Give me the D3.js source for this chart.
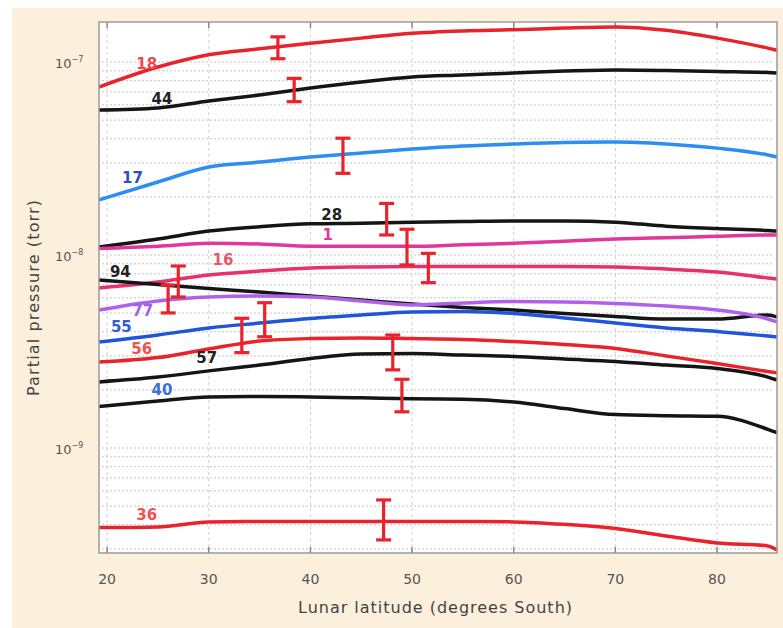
<!DOCTYPE html>
<html><head><meta charset="utf-8">
<script src="https://cdn.jsdelivr.net/npm/d3@7"></script>
<style>
html,body{margin:0;padding:0;background:#fff;}
svg{display:block;}
text{font-family:"DejaVu Sans",Roboto,sans-serif;}
</style></head>
<body>
<svg id="chart" width="783" height="628"></svg>
<script>
// ---- data ----
const latitudes = [19.2, 25, 30, 35, 40, 45, 50, 55, 60, 65, 70, 75, 80, 85, 85.9];
const s18 = [7.42e-8, 9.42e-8, 1.09e-7, 1.17e-7, 1.25e-7, 1.33e-7, 1.41e-7, 1.45e-7, 1.47e-7, 1.50e-7, 1.52e-7, 1.46e-7, 1.33e-7, 1.18e-7, 1.15e-7];
const s44 = [5.64e-8, 5.78e-8, 6.28e-8, 6.75e-8, 7.33e-8, 7.88e-8, 8.36e-8, 8.56e-8, 8.77e-8, 8.98e-8, 9.09e-8, 9.04e-8, 8.93e-8, 8.82e-8, 8.77e-8];
const s17 = [1.93e-8, 2.39e-8, 2.86e-8, 3.03e-8, 3.22e-8, 3.38e-8, 3.54e-8, 3.67e-8, 3.76e-8, 3.83e-8, 3.85e-8, 3.76e-8, 3.58e-8, 3.30e-8, 3.22e-8];
const s28 = [1.10e-8, 1.21e-8, 1.33e-8, 1.40e-8, 1.45e-8, 1.46e-8, 1.48e-8, 1.49e-8, 1.50e-8, 1.50e-8, 1.48e-8, 1.41e-8, 1.37e-8, 1.34e-8, 1.33e-8];
const s1  = [1.08e-8, 1.11e-8, 1.15e-8, 1.14e-8, 1.11e-8, 1.11e-8, 1.11e-8, 1.13e-8, 1.15e-8, 1.18e-8, 1.21e-8, 1.23e-8, 1.25e-8, 1.27e-8, 1.27e-8];
const s16 = [6.75e-9, 7.25e-9, 7.88e-9, 8.26e-9, 8.56e-9, 8.67e-9, 8.72e-9, 8.72e-9, 8.72e-9, 8.72e-9, 8.67e-9, 8.46e-9, 8.16e-9, 7.60e-9, 7.51e-9];
const s94 = [7.42e-9, 7.03e-9, 6.71e-9, 6.43e-9, 6.13e-9, 5.85e-9, 5.57e-9, 5.35e-9, 5.19e-9, 4.98e-9, 4.80e-9, 4.66e-9, 4.66e-9, 4.89e-9, 4.77e-9];
const s77 = [5.19e-9, 5.78e-9, 6.06e-9, 6.13e-9, 6.06e-9, 5.78e-9, 5.51e-9, 5.64e-9, 5.74e-9, 5.71e-9, 5.61e-9, 5.44e-9, 5.19e-9, 4.66e-9, 4.50e-9];
const s55 = [3.54e-9, 3.85e-9, 4.19e-9, 4.44e-9, 4.69e-9, 4.89e-9, 5.07e-9, 5.10e-9, 4.98e-9, 4.72e-9, 4.44e-9, 4.19e-9, 4.02e-9, 3.80e-9, 3.76e-9];
const s56 = [2.79e-9, 2.94e-9, 3.26e-9, 3.58e-9, 3.69e-9, 3.72e-9, 3.69e-9, 3.65e-9, 3.56e-9, 3.44e-9, 3.28e-9, 3.00e-9, 2.74e-9, 2.49e-9, 2.45e-9];
const s57 = [2.20e-9, 2.33e-9, 2.51e-9, 2.69e-9, 2.91e-9, 3.07e-9, 3.09e-9, 3.03e-9, 2.98e-9, 2.89e-9, 2.81e-9, 2.69e-9, 2.58e-9, 2.33e-9, 2.25e-9];
const s40 = [1.64e-9, 1.75e-9, 1.84e-9, 1.85e-9, 1.84e-9, 1.82e-9, 1.80e-9, 1.79e-9, 1.73e-9, 1.60e-9, 1.49e-9, 1.47e-9, 1.46e-9, 1.25e-9, 1.20e-9];
const s36 = [3.87e-10, 3.90e-10, 4.14e-10, 4.16e-10, 4.16e-10, 4.16e-10, 4.16e-10, 4.16e-10, 4.14e-10, 4.02e-10, 3.83e-10, 3.50e-10, 3.22e-10, 3.11e-10, 2.96e-10];

const seriesNames  = ["18","44","17","28","1","16","94","77","55","56","57","40","36"];
const seriesValues = [s18, s44, s17, s28, s1, s16, s94, s77, s55, s56, s57, s40, s36];

// error bars: latitude, low, high
const errLat  = [36.8, 38.4, 43.2, 47.5, 49.5, 51.6, 27.0, 26.0, 33.25, 35.5, 48.1, 49.0, 47.2];
const errLow  = [1.04e-7, 6.23e-8, 2.65e-8, 1.27e-8, 8.88e-9, 7.19e-9, 6.06e-9, 5.01e-9, 3.12e-9, 3.77e-9, 2.54e-9, 1.54e-9, 3.34e-10];
const errHigh = [1.35e-7, 8.23e-8, 4.03e-8, 1.85e-8, 1.36e-8, 1.02e-8, 8.77e-9, 6.99e-9, 4.70e-9, 5.66e-9, 3.85e-9, 2.27e-9, 5.38e-10];

// series labels: text, latitude, value
const labelText = ["18","44","17","28","1","16","94","77","55","56","57","40","36"];
const labelLat  = [23.9, 25.4, 22.5, 42.1, 41.7, 31.4, 21.3, 23.5, 21.4, 23.4, 29.8, 25.4, 23.9];
const labelVal  = [9.71e-8, 6.43e-8, 2.52e-8, 1.61e-8, 1.27e-8, 9.42e-9, 8.16e-9, 5.13e-9, 4.24e-9, 3.26e-9, 2.93e-9, 2.00e-9, 4.50e-10];

const xTicks = [20, 30, 40, 50, 60, 70, 80];
const yTickExps = [-7, -8, -9];
const xTitle = "Lunar latitude (degrees South)";
const yTitle = "Partial pressure (torr)";

// ---- styles ----
const lineColor = {"18":"#e8232b","44":"#151515","17":"#2b8ef0","28":"#151515","1":"#e0379a","16":"#e8306f","94":"#151515","77":"#b061ea","55":"#1f55d8","56":"#e8232b","57":"#151515","40":"#151515","36":"#e8232b"};
const labelColor = {"18":"#f0484a","44":"#222","17":"#2c4fc6","28":"#222","1":"#e0379a","16":"#f05468","94":"#222","77":"#a35ee4","55":"#3060d0","56":"#f05252","57":"#222","40":"#3b6fd8","36":"#f05050"};

const svg = d3.select("#chart");
const W = 783, H = 628;
const L = 99, R = 777, T = 22, B = 553;

svg.append("rect").attr("x",0).attr("y",0).attr("width",W).attr("height",H).attr("fill","#ffffff");
svg.append("rect").attr("x",12).attr("y",8).attr("width",W-12).attr("height",H-8).attr("fill","#fcefdc");
svg.append("rect").attr("x",L).attr("y",T).attr("width",R-L).attr("height",B-T).attr("fill","#ffffff");

const x = d3.scaleLinear().domain([19.2, 85.9]).range([L, R]);
const y = d3.scaleLog().domain([2.857e-10, 1.612e-7]).range([B, T]);

// grid
const g = svg.append("g");
const minor = [];
for (let e = -10; e <= -7; e++) for (let m = 1; m <= 9; m++) { const v = m * Math.pow(10, e); if (v >= y.domain()[0] && v <= y.domain()[1]) minor.push(v); }
g.selectAll("line.hg").data(minor).join("line")
  .attr("x1", L+3).attr("x2", R-3).attr("y1", d => y(d)).attr("y2", d => y(d))
  .attr("stroke", "#c4c4c4").attr("stroke-width", 1).attr("stroke-dasharray", "2,2");
g.selectAll("line.vg").data(xTicks).join("line")
  .attr("x1", d => x(d)).attr("x2", d => x(d)).attr("y1", T).attr("y2", B)
  .attr("stroke", "#cfcfcf").attr("stroke-width", 1).attr("stroke-dasharray", "3,3");
g.selectAll("line.tt").data(xTicks).join("line")
  .attr("x1", d => x(d)).attr("x2", d => x(d)).attr("y1", T).attr("y2", T+6)
  .attr("stroke", "#888").attr("stroke-width", 1.5);
g.selectAll("line.tb").data(xTicks).join("line")
  .attr("x1", d => x(d)).attr("x2", d => x(d)).attr("y1", B).attr("y2", B-6)
  .attr("stroke", "#888").attr("stroke-width", 1.5);

// lines
const line = d3.line().x((d,i) => x(latitudes[i])).y(d => y(d)).curve(d3.curveMonotoneX);
svg.append("g").selectAll("path").data(seriesValues).join("path")
  .attr("d", d => line(d)).attr("fill", "none")
  .attr("stroke", (d,i) => lineColor[seriesNames[i]]).attr("stroke-width", 3.5)
  .attr("stroke-linejoin", "round");

// error bars
const eb = svg.append("g").attr("stroke", "#e8232b").attr("stroke-width", 3.2);
errLat.forEach((lat, i) => {
  const cx = x(lat);
  eb.append("line").attr("x1", cx).attr("x2", cx).attr("y1", y(errLow[i])).attr("y2", y(errHigh[i]));
  eb.append("line").attr("x1", cx-7.5).attr("x2", cx+7.5).attr("y1", y(errLow[i])).attr("y2", y(errLow[i]));
  eb.append("line").attr("x1", cx-7.5).attr("x2", cx+7.5).attr("y1", y(errHigh[i])).attr("y2", y(errHigh[i]));
});

// border
svg.append("rect").attr("x",L).attr("y",T).attr("width",R-L).attr("height",B-T)
  .attr("fill","none").attr("stroke","#9a9a9a").attr("stroke-width",1.5);

// series labels
svg.append("g").selectAll("text").data(labelText).join("text")
  .attr("x", (d,i) => x(labelLat[i])).attr("y", (d,i) => y(labelVal[i]))
  .attr("text-anchor","middle").attr("dominant-baseline","central")
  .attr("font-size", 15).attr("font-weight", 700)
  .attr("fill", d => labelColor[d]).text(d => d);

// x tick labels
svg.append("g").selectAll("text").data(xTicks).join("text")
  .attr("x", d => x(d)).attr("y", 579).attr("text-anchor","middle").attr("dominant-baseline","central")
  .attr("font-size", 14).attr("fill", "#555").text(d => d);

// y tick labels
const yt = svg.append("g").selectAll("text").data(yTickExps).join("text")
  .attr("x", 55).attr("y", d => y(Math.pow(10, d)) + 6).attr("text-anchor","start")
  .attr("font-size", 13).attr("fill", "#555");
yt.append("tspan").text("10");
yt.append("tspan").attr("dy", -6).attr("font-size", 8).text(d => "\u2212" + Math.abs(d));

// axis titles
svg.append("text").attr("x", 435).attr("y", 607).attr("text-anchor","middle").attr("dominant-baseline","central")
  .attr("font-size", 16).attr("fill", "#444")
  .attr("textLength", 274).attr("lengthAdjust", "spacing").text(xTitle);
svg.append("text").attr("transform", "translate(33,298) rotate(-90)").attr("text-anchor","middle").attr("dominant-baseline","central")
  .attr("font-size", 16).attr("fill", "#444")
  .attr("textLength", 196).attr("lengthAdjust", "spacing").text(yTitle);
</script>
</body></html>
